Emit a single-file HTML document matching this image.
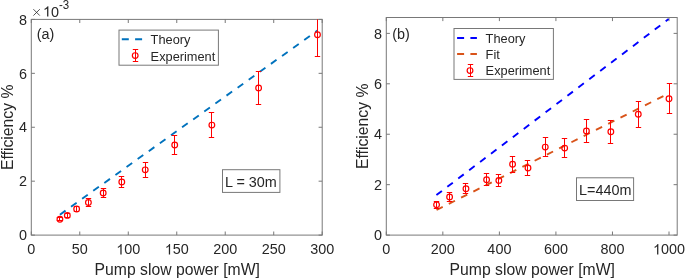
<!DOCTYPE html>
<html><head><meta charset="utf-8"><style>
html,body{margin:0;padding:0;background:#fff;width:685px;height:279px;overflow:hidden;}
svg{display:block;will-change:transform;}
</style></head><body>
<svg width="685" height="279" viewBox="0 0 685 279" font-family='"Liberation Sans", sans-serif'>
<rect width="685" height="279" fill="#fff"/>
<rect x="31.3" y="19.4" width="290.90" height="215.70" fill="none" stroke="#787878" stroke-width="1.0"/>
<line x1="31.30" y1="235.1" x2="31.30" y2="231.50" stroke="#787878" stroke-width="1.0"/>
<line x1="31.30" y1="19.4" x2="31.30" y2="23.00" stroke="#787878" stroke-width="1.0"/>
<text transform="translate(27.296,254.400) scale(1,1.035)" font-size="14.4" fill="#262626">0</text>
<line x1="79.78" y1="235.1" x2="79.78" y2="231.50" stroke="#787878" stroke-width="1.0"/>
<line x1="79.78" y1="19.4" x2="79.78" y2="23.00" stroke="#787878" stroke-width="1.0"/>
<text transform="translate(71.775,254.400) scale(1,1.035)" font-size="14.4" fill="#262626">5</text>
<text transform="translate(79.783,254.400) scale(1,1.035)" font-size="14.4" fill="#262626">0</text>
<line x1="128.27" y1="235.1" x2="128.27" y2="231.50" stroke="#787878" stroke-width="1.0"/>
<line x1="128.27" y1="19.4" x2="128.27" y2="23.00" stroke="#787878" stroke-width="1.0"/>
<path transform="translate(116.254,254.400) scale(0.007031,-0.007031)" d="M763,0 L583,0 L583,1147 Q518,1085 412,1023 Q307,961 223,930 L223,1104 Q374,1175 487,1276 Q600,1377 647,1472 L763,1472 Z" fill="#262626"/>
<text transform="translate(124.262,254.400) scale(1,1.035)" font-size="14.4" fill="#262626">0</text>
<text transform="translate(132.271,254.400) scale(1,1.035)" font-size="14.4" fill="#262626">0</text>
<line x1="176.75" y1="235.1" x2="176.75" y2="231.50" stroke="#787878" stroke-width="1.0"/>
<line x1="176.75" y1="19.4" x2="176.75" y2="23.00" stroke="#787878" stroke-width="1.0"/>
<path transform="translate(164.737,254.400) scale(0.007031,-0.007031)" d="M763,0 L583,0 L583,1147 Q518,1085 412,1023 Q307,961 223,930 L223,1104 Q374,1175 487,1276 Q600,1377 647,1472 L763,1472 Z" fill="#262626"/>
<text transform="translate(172.746,254.400) scale(1,1.035)" font-size="14.4" fill="#262626">5</text>
<text transform="translate(180.754,254.400) scale(1,1.035)" font-size="14.4" fill="#262626">0</text>
<line x1="225.23" y1="235.1" x2="225.23" y2="231.50" stroke="#787878" stroke-width="1.0"/>
<line x1="225.23" y1="19.4" x2="225.23" y2="23.00" stroke="#787878" stroke-width="1.0"/>
<text transform="translate(213.220,254.400) scale(1,1.035)" font-size="14.4" fill="#262626">2</text>
<text transform="translate(221.229,254.400) scale(1,1.035)" font-size="14.4" fill="#262626">0</text>
<text transform="translate(229.238,254.400) scale(1,1.035)" font-size="14.4" fill="#262626">0</text>
<line x1="273.72" y1="235.1" x2="273.72" y2="231.50" stroke="#787878" stroke-width="1.0"/>
<line x1="273.72" y1="19.4" x2="273.72" y2="23.00" stroke="#787878" stroke-width="1.0"/>
<text transform="translate(261.704,254.400) scale(1,1.035)" font-size="14.4" fill="#262626">2</text>
<text transform="translate(269.712,254.400) scale(1,1.035)" font-size="14.4" fill="#262626">5</text>
<text transform="translate(277.721,254.400) scale(1,1.035)" font-size="14.4" fill="#262626">0</text>
<line x1="322.20" y1="235.1" x2="322.20" y2="231.50" stroke="#787878" stroke-width="1.0"/>
<line x1="322.20" y1="19.4" x2="322.20" y2="23.00" stroke="#787878" stroke-width="1.0"/>
<text transform="translate(310.187,254.400) scale(1,1.035)" font-size="14.4" fill="#262626">3</text>
<text transform="translate(318.196,254.400) scale(1,1.035)" font-size="14.4" fill="#262626">0</text>
<text transform="translate(326.204,254.400) scale(1,1.035)" font-size="14.4" fill="#262626">0</text>
<line x1="31.3" y1="235.10" x2="34.90" y2="235.10" stroke="#787878" stroke-width="1.0"/>
<line x1="322.2" y1="235.10" x2="318.60" y2="235.10" stroke="#787878" stroke-width="1.0"/>
<text transform="translate(18.991,240.300) scale(1,1.035)" font-size="14.4" fill="#262626">0</text>
<line x1="31.3" y1="181.18" x2="34.90" y2="181.18" stroke="#787878" stroke-width="1.0"/>
<line x1="322.2" y1="181.18" x2="318.60" y2="181.18" stroke="#787878" stroke-width="1.0"/>
<text transform="translate(18.991,186.375) scale(1,1.035)" font-size="14.4" fill="#262626">2</text>
<line x1="31.3" y1="127.25" x2="34.90" y2="127.25" stroke="#787878" stroke-width="1.0"/>
<line x1="322.2" y1="127.25" x2="318.60" y2="127.25" stroke="#787878" stroke-width="1.0"/>
<text transform="translate(18.991,132.450) scale(1,1.035)" font-size="14.4" fill="#262626">4</text>
<line x1="31.3" y1="73.33" x2="34.90" y2="73.33" stroke="#787878" stroke-width="1.0"/>
<line x1="322.2" y1="73.33" x2="318.60" y2="73.33" stroke="#787878" stroke-width="1.0"/>
<text transform="translate(18.991,78.525) scale(1,1.035)" font-size="14.4" fill="#262626">6</text>
<line x1="31.3" y1="19.40" x2="34.90" y2="19.40" stroke="#787878" stroke-width="1.0"/>
<line x1="322.2" y1="19.40" x2="318.60" y2="19.40" stroke="#787878" stroke-width="1.0"/>
<text transform="translate(18.991,24.600) scale(1,1.035)" font-size="14.4" fill="#262626">8</text>
<text transform="translate(177.250,275.000) scale(1,1.035)" font-size="15.75" text-anchor="middle" fill="#262626">Pump slow power [mW]</text>
<text transform="translate(13.200,127.250) rotate(-90) scale(1,1.035)" font-size="15.75" text-anchor="middle" fill="#262626">Efficiency %</text>
<path d="M33.4,9.2 L39.8,15.6 M39.8,9.2 L33.4,15.6" stroke="#262626" stroke-width="0.8" fill="none"/>
<path transform="translate(43.000,16.500) scale(0.007031,-0.007031)" d="M763,0 L583,0 L583,1147 Q518,1085 412,1023 Q307,961 223,930 L223,1104 Q374,1175 487,1276 Q600,1377 647,1472 L763,1472 Z" fill="#262626"/>
<text transform="translate(51.009,16.500) scale(1,1.035)" font-size="14.4" fill="#262626">0</text>
<text transform="translate(59.017,9.4) scale(1,1.035)" font-size="11.5" fill="#262626">-3</text>
<path d="M59.92,214.65 L317.47,30.60" fill="none" stroke="#0072bd" stroke-width="1.9" stroke-dasharray="6.9 6.75"/>
<line x1="59.50" y1="217.50" x2="59.50" y2="220.50" stroke="#ff0000" stroke-width="1.0"/>
<line x1="56.80" y1="217.50" x2="62.20" y2="217.50" stroke="#ff0000" stroke-width="1.0"/>
<line x1="56.80" y1="220.50" x2="62.20" y2="220.50" stroke="#ff0000" stroke-width="1.0"/>
<circle cx="59.92" cy="219.19" r="2.85" fill="none" stroke="#ff0000" stroke-width="1.2"/>
<line x1="67.50" y1="213.50" x2="67.50" y2="217.50" stroke="#ff0000" stroke-width="1.0"/>
<line x1="64.80" y1="213.50" x2="70.20" y2="213.50" stroke="#ff0000" stroke-width="1.0"/>
<line x1="64.80" y1="217.50" x2="70.20" y2="217.50" stroke="#ff0000" stroke-width="1.0"/>
<circle cx="67.33" cy="215.42" r="2.85" fill="none" stroke="#ff0000" stroke-width="1.2"/>
<line x1="76.50" y1="206.50" x2="76.50" y2="211.50" stroke="#ff0000" stroke-width="1.0"/>
<line x1="73.80" y1="206.50" x2="79.20" y2="206.50" stroke="#ff0000" stroke-width="1.0"/>
<line x1="73.80" y1="211.50" x2="79.20" y2="211.50" stroke="#ff0000" stroke-width="1.0"/>
<circle cx="76.65" cy="208.95" r="2.85" fill="none" stroke="#ff0000" stroke-width="1.2"/>
<line x1="88.50" y1="198.50" x2="88.50" y2="206.50" stroke="#ff0000" stroke-width="1.0"/>
<line x1="85.80" y1="198.50" x2="91.20" y2="198.50" stroke="#ff0000" stroke-width="1.0"/>
<line x1="85.80" y1="206.50" x2="91.20" y2="206.50" stroke="#ff0000" stroke-width="1.0"/>
<circle cx="88.40" cy="202.48" r="2.85" fill="none" stroke="#ff0000" stroke-width="1.2"/>
<line x1="103.50" y1="188.50" x2="103.50" y2="197.50" stroke="#ff0000" stroke-width="1.0"/>
<line x1="100.80" y1="188.50" x2="106.20" y2="188.50" stroke="#ff0000" stroke-width="1.0"/>
<line x1="100.80" y1="197.50" x2="106.20" y2="197.50" stroke="#ff0000" stroke-width="1.0"/>
<circle cx="103.18" cy="193.04" r="2.85" fill="none" stroke="#ff0000" stroke-width="1.2"/>
<line x1="121.50" y1="176.50" x2="121.50" y2="187.50" stroke="#ff0000" stroke-width="1.0"/>
<line x1="118.80" y1="176.50" x2="124.20" y2="176.50" stroke="#ff0000" stroke-width="1.0"/>
<line x1="118.80" y1="187.50" x2="124.20" y2="187.50" stroke="#ff0000" stroke-width="1.0"/>
<circle cx="121.79" cy="181.98" r="2.85" fill="none" stroke="#ff0000" stroke-width="1.2"/>
<line x1="145.50" y1="162.50" x2="145.50" y2="177.50" stroke="#ff0000" stroke-width="1.0"/>
<line x1="142.80" y1="162.50" x2="148.20" y2="162.50" stroke="#ff0000" stroke-width="1.0"/>
<line x1="142.80" y1="177.50" x2="148.20" y2="177.50" stroke="#ff0000" stroke-width="1.0"/>
<circle cx="145.23" cy="169.85" r="2.85" fill="none" stroke="#ff0000" stroke-width="1.2"/>
<line x1="174.50" y1="135.50" x2="174.50" y2="154.50" stroke="#ff0000" stroke-width="1.0"/>
<line x1="171.80" y1="135.50" x2="177.20" y2="135.50" stroke="#ff0000" stroke-width="1.0"/>
<line x1="171.80" y1="154.50" x2="177.20" y2="154.50" stroke="#ff0000" stroke-width="1.0"/>
<circle cx="174.72" cy="145.05" r="2.85" fill="none" stroke="#ff0000" stroke-width="1.2"/>
<line x1="211.50" y1="112.50" x2="211.50" y2="137.50" stroke="#ff0000" stroke-width="1.0"/>
<line x1="208.80" y1="112.50" x2="214.20" y2="112.50" stroke="#ff0000" stroke-width="1.0"/>
<line x1="208.80" y1="137.50" x2="214.20" y2="137.50" stroke="#ff0000" stroke-width="1.0"/>
<circle cx="211.86" cy="125.09" r="2.85" fill="none" stroke="#ff0000" stroke-width="1.2"/>
<line x1="258.50" y1="71.50" x2="258.50" y2="104.50" stroke="#ff0000" stroke-width="1.0"/>
<line x1="255.80" y1="71.50" x2="261.20" y2="71.50" stroke="#ff0000" stroke-width="1.0"/>
<line x1="255.80" y1="104.50" x2="261.20" y2="104.50" stroke="#ff0000" stroke-width="1.0"/>
<circle cx="258.61" cy="87.88" r="2.85" fill="none" stroke="#ff0000" stroke-width="1.2"/>
<line x1="317.50" y1="19.40" x2="317.50" y2="56.50" stroke="#ff0000" stroke-width="1.0"/>
<line x1="314.80" y1="56.50" x2="320.20" y2="56.50" stroke="#ff0000" stroke-width="1.0"/>
<circle cx="317.47" cy="34.77" r="2.85" fill="none" stroke="#ff0000" stroke-width="1.2"/>
<rect x="119.0" y="30.1" width="99.4" height="35.1" fill="#fff" stroke="#787878" stroke-width="1"/>
<path d="M121.80,39.20 L142.10,39.20" fill="none" stroke="#0072bd" stroke-width="2.0" stroke-dasharray="7.0 6.3"/>
<line x1="135.50" y1="49.50" x2="135.50" y2="61.50" stroke="#ff0000" stroke-width="1.0"/>
<line x1="132.80" y1="49.50" x2="138.20" y2="49.50" stroke="#ff0000" stroke-width="1.0"/>
<line x1="132.80" y1="61.50" x2="138.20" y2="61.50" stroke="#ff0000" stroke-width="1.0"/>
<circle cx="135.20" cy="55.60" r="2.85" fill="none" stroke="#ff0000" stroke-width="1.2"/>
<text transform="translate(150.600,44.100) scale(1,1.035)" font-size="12.8" text-anchor="start" fill="#262626">Theory</text>
<text transform="translate(150.600,60.500) scale(1,1.035)" font-size="12.8" text-anchor="start" fill="#262626">Experiment</text>
<text transform="translate(36.800,39.000) scale(1,1.035)" font-size="14.4" text-anchor="start" fill="#262626">(a)</text>
<rect x="222.5" y="169.7" width="57.4" height="22.7" fill="#fff" stroke="#787878" stroke-width="1"/>
<text transform="translate(225.000,187.000) scale(1,1.035)" font-size="14.4" text-anchor="start" fill="#262626">L = 30m</text>
<rect x="386.3" y="17.5" width="290.90" height="217.60" fill="none" stroke="#787878" stroke-width="1.0"/>
<line x1="386.30" y1="235.1" x2="386.30" y2="231.50" stroke="#787878" stroke-width="1.0"/>
<line x1="386.30" y1="17.5" x2="386.30" y2="21.10" stroke="#787878" stroke-width="1.0"/>
<text transform="translate(382.296,254.400) scale(1,1.035)" font-size="14.4" fill="#262626">0</text>
<line x1="442.84" y1="235.1" x2="442.84" y2="231.50" stroke="#787878" stroke-width="1.0"/>
<line x1="442.84" y1="17.5" x2="442.84" y2="21.10" stroke="#787878" stroke-width="1.0"/>
<text transform="translate(430.827,254.400) scale(1,1.035)" font-size="14.4" fill="#262626">2</text>
<text transform="translate(438.836,254.400) scale(1,1.035)" font-size="14.4" fill="#262626">0</text>
<text transform="translate(446.845,254.400) scale(1,1.035)" font-size="14.4" fill="#262626">0</text>
<line x1="499.38" y1="235.1" x2="499.38" y2="231.50" stroke="#787878" stroke-width="1.0"/>
<line x1="499.38" y1="17.5" x2="499.38" y2="21.10" stroke="#787878" stroke-width="1.0"/>
<text transform="translate(487.368,254.400) scale(1,1.035)" font-size="14.4" fill="#262626">4</text>
<text transform="translate(495.376,254.400) scale(1,1.035)" font-size="14.4" fill="#262626">0</text>
<text transform="translate(503.385,254.400) scale(1,1.035)" font-size="14.4" fill="#262626">0</text>
<line x1="555.92" y1="235.1" x2="555.92" y2="231.50" stroke="#787878" stroke-width="1.0"/>
<line x1="555.92" y1="17.5" x2="555.92" y2="21.10" stroke="#787878" stroke-width="1.0"/>
<text transform="translate(543.908,254.400) scale(1,1.035)" font-size="14.4" fill="#262626">6</text>
<text transform="translate(551.917,254.400) scale(1,1.035)" font-size="14.4" fill="#262626">0</text>
<text transform="translate(559.925,254.400) scale(1,1.035)" font-size="14.4" fill="#262626">0</text>
<line x1="612.46" y1="235.1" x2="612.46" y2="231.50" stroke="#787878" stroke-width="1.0"/>
<line x1="612.46" y1="17.5" x2="612.46" y2="21.10" stroke="#787878" stroke-width="1.0"/>
<text transform="translate(600.448,254.400) scale(1,1.035)" font-size="14.4" fill="#262626">8</text>
<text transform="translate(608.457,254.400) scale(1,1.035)" font-size="14.4" fill="#262626">0</text>
<text transform="translate(616.466,254.400) scale(1,1.035)" font-size="14.4" fill="#262626">0</text>
<line x1="669.00" y1="235.1" x2="669.00" y2="231.50" stroke="#787878" stroke-width="1.0"/>
<line x1="669.00" y1="17.5" x2="669.00" y2="21.10" stroke="#787878" stroke-width="1.0"/>
<path transform="translate(652.984,254.400) scale(0.007031,-0.007031)" d="M763,0 L583,0 L583,1147 Q518,1085 412,1023 Q307,961 223,930 L223,1104 Q374,1175 487,1276 Q600,1377 647,1472 L763,1472 Z" fill="#262626"/>
<text transform="translate(660.993,254.400) scale(1,1.035)" font-size="14.4" fill="#262626">0</text>
<text transform="translate(669.002,254.400) scale(1,1.035)" font-size="14.4" fill="#262626">0</text>
<text transform="translate(677.010,254.400) scale(1,1.035)" font-size="14.4" fill="#262626">0</text>
<line x1="386.3" y1="235.10" x2="389.90" y2="235.10" stroke="#787878" stroke-width="1.0"/>
<line x1="677.2" y1="235.10" x2="673.60" y2="235.10" stroke="#787878" stroke-width="1.0"/>
<text transform="translate(373.991,240.300) scale(1,1.035)" font-size="14.4" fill="#262626">0</text>
<line x1="386.3" y1="184.67" x2="389.90" y2="184.67" stroke="#787878" stroke-width="1.0"/>
<line x1="677.2" y1="184.67" x2="673.60" y2="184.67" stroke="#787878" stroke-width="1.0"/>
<text transform="translate(373.991,189.871) scale(1,1.035)" font-size="14.4" fill="#262626">2</text>
<line x1="386.3" y1="134.24" x2="389.90" y2="134.24" stroke="#787878" stroke-width="1.0"/>
<line x1="677.2" y1="134.24" x2="673.60" y2="134.24" stroke="#787878" stroke-width="1.0"/>
<text transform="translate(373.991,139.443) scale(1,1.035)" font-size="14.4" fill="#262626">4</text>
<line x1="386.3" y1="83.81" x2="389.90" y2="83.81" stroke="#787878" stroke-width="1.0"/>
<line x1="677.2" y1="83.81" x2="673.60" y2="83.81" stroke="#787878" stroke-width="1.0"/>
<text transform="translate(373.991,89.014) scale(1,1.035)" font-size="14.4" fill="#262626">6</text>
<line x1="386.3" y1="33.39" x2="389.90" y2="33.39" stroke="#787878" stroke-width="1.0"/>
<line x1="677.2" y1="33.39" x2="673.60" y2="33.39" stroke="#787878" stroke-width="1.0"/>
<text transform="translate(373.991,38.585) scale(1,1.035)" font-size="14.4" fill="#262626">8</text>
<text transform="translate(532.250,275.000) scale(1,1.035)" font-size="15.75" text-anchor="middle" fill="#262626">Pump slow power [mW]</text>
<text transform="translate(368.300,126.300) rotate(-90) scale(1,1.035)" font-size="15.75" text-anchor="middle" fill="#262626">Efficiency %</text>
<path d="M436.40,195.10 L668.60,19.10" fill="none" stroke="#0000ff" stroke-width="1.9" stroke-dasharray="6.9 6.8"/>
<path d="M436.56,210.01 L669.00,93.27" fill="none" stroke="#d95319" stroke-width="1.9" stroke-dasharray="6.9 6.82"/>
<line x1="436.50" y1="201.50" x2="436.50" y2="208.50" stroke="#ff0000" stroke-width="1.0"/>
<line x1="433.80" y1="201.50" x2="439.20" y2="201.50" stroke="#ff0000" stroke-width="1.0"/>
<line x1="433.80" y1="208.50" x2="439.20" y2="208.50" stroke="#ff0000" stroke-width="1.0"/>
<circle cx="436.56" cy="204.84" r="2.85" fill="none" stroke="#ff0000" stroke-width="1.2"/>
<line x1="449.50" y1="192.50" x2="449.50" y2="201.50" stroke="#ff0000" stroke-width="1.0"/>
<line x1="446.80" y1="192.50" x2="452.20" y2="192.50" stroke="#ff0000" stroke-width="1.0"/>
<line x1="446.80" y1="201.50" x2="452.20" y2="201.50" stroke="#ff0000" stroke-width="1.0"/>
<circle cx="449.60" cy="197.03" r="2.85" fill="none" stroke="#ff0000" stroke-width="1.2"/>
<line x1="465.50" y1="183.50" x2="465.50" y2="193.50" stroke="#ff0000" stroke-width="1.0"/>
<line x1="462.80" y1="183.50" x2="468.20" y2="183.50" stroke="#ff0000" stroke-width="1.0"/>
<line x1="462.80" y1="193.50" x2="468.20" y2="193.50" stroke="#ff0000" stroke-width="1.0"/>
<circle cx="465.97" cy="188.71" r="2.85" fill="none" stroke="#ff0000" stroke-width="1.2"/>
<line x1="486.50" y1="173.50" x2="486.50" y2="185.50" stroke="#ff0000" stroke-width="1.0"/>
<line x1="483.80" y1="173.50" x2="489.20" y2="173.50" stroke="#ff0000" stroke-width="1.0"/>
<line x1="483.80" y1="185.50" x2="489.20" y2="185.50" stroke="#ff0000" stroke-width="1.0"/>
<circle cx="486.60" cy="179.63" r="2.85" fill="none" stroke="#ff0000" stroke-width="1.2"/>
<line x1="498.50" y1="174.50" x2="498.50" y2="186.50" stroke="#ff0000" stroke-width="1.0"/>
<line x1="495.80" y1="174.50" x2="501.20" y2="174.50" stroke="#ff0000" stroke-width="1.0"/>
<line x1="495.80" y1="186.50" x2="501.20" y2="186.50" stroke="#ff0000" stroke-width="1.0"/>
<circle cx="498.84" cy="180.38" r="2.85" fill="none" stroke="#ff0000" stroke-width="1.2"/>
<line x1="512.50" y1="156.50" x2="512.50" y2="172.50" stroke="#ff0000" stroke-width="1.0"/>
<line x1="509.80" y1="156.50" x2="515.20" y2="156.50" stroke="#ff0000" stroke-width="1.0"/>
<line x1="509.80" y1="172.50" x2="515.20" y2="172.50" stroke="#ff0000" stroke-width="1.0"/>
<circle cx="512.58" cy="164.25" r="2.85" fill="none" stroke="#ff0000" stroke-width="1.2"/>
<line x1="527.50" y1="160.50" x2="527.50" y2="175.50" stroke="#ff0000" stroke-width="1.0"/>
<line x1="524.80" y1="160.50" x2="530.20" y2="160.50" stroke="#ff0000" stroke-width="1.0"/>
<line x1="524.80" y1="175.50" x2="530.20" y2="175.50" stroke="#ff0000" stroke-width="1.0"/>
<circle cx="527.99" cy="168.03" r="2.85" fill="none" stroke="#ff0000" stroke-width="1.2"/>
<line x1="545.50" y1="137.50" x2="545.50" y2="156.50" stroke="#ff0000" stroke-width="1.0"/>
<line x1="542.80" y1="137.50" x2="548.20" y2="137.50" stroke="#ff0000" stroke-width="1.0"/>
<line x1="542.80" y1="156.50" x2="548.20" y2="156.50" stroke="#ff0000" stroke-width="1.0"/>
<circle cx="545.26" cy="147.10" r="2.85" fill="none" stroke="#ff0000" stroke-width="1.2"/>
<line x1="564.50" y1="138.50" x2="564.50" y2="157.50" stroke="#ff0000" stroke-width="1.0"/>
<line x1="561.80" y1="138.50" x2="567.20" y2="138.50" stroke="#ff0000" stroke-width="1.0"/>
<line x1="561.80" y1="157.50" x2="567.20" y2="157.50" stroke="#ff0000" stroke-width="1.0"/>
<circle cx="564.68" cy="148.11" r="2.85" fill="none" stroke="#ff0000" stroke-width="1.2"/>
<line x1="586.50" y1="119.50" x2="586.50" y2="142.50" stroke="#ff0000" stroke-width="1.0"/>
<line x1="583.80" y1="119.50" x2="589.20" y2="119.50" stroke="#ff0000" stroke-width="1.0"/>
<line x1="583.80" y1="142.50" x2="589.20" y2="142.50" stroke="#ff0000" stroke-width="1.0"/>
<circle cx="586.42" cy="130.96" r="2.85" fill="none" stroke="#ff0000" stroke-width="1.2"/>
<line x1="610.50" y1="120.50" x2="610.50" y2="143.50" stroke="#ff0000" stroke-width="1.0"/>
<line x1="607.80" y1="120.50" x2="613.20" y2="120.50" stroke="#ff0000" stroke-width="1.0"/>
<line x1="607.80" y1="143.50" x2="613.20" y2="143.50" stroke="#ff0000" stroke-width="1.0"/>
<circle cx="610.85" cy="131.72" r="2.85" fill="none" stroke="#ff0000" stroke-width="1.2"/>
<line x1="638.50" y1="101.50" x2="638.50" y2="127.50" stroke="#ff0000" stroke-width="1.0"/>
<line x1="635.80" y1="101.50" x2="641.20" y2="101.50" stroke="#ff0000" stroke-width="1.0"/>
<line x1="635.80" y1="127.50" x2="641.20" y2="127.50" stroke="#ff0000" stroke-width="1.0"/>
<circle cx="638.27" cy="114.32" r="2.85" fill="none" stroke="#ff0000" stroke-width="1.2"/>
<line x1="669.50" y1="83.50" x2="669.50" y2="113.50" stroke="#ff0000" stroke-width="1.0"/>
<line x1="666.80" y1="83.50" x2="672.20" y2="83.50" stroke="#ff0000" stroke-width="1.0"/>
<line x1="666.80" y1="113.50" x2="672.20" y2="113.50" stroke="#ff0000" stroke-width="1.0"/>
<circle cx="669.00" cy="98.69" r="2.85" fill="none" stroke="#ff0000" stroke-width="1.2"/>
<rect x="454.0" y="28.5" width="99.4" height="50.9" fill="#fff" stroke="#787878" stroke-width="1"/>
<path d="M457.10,37.90 L476.90,37.90" fill="none" stroke="#0000ff" stroke-width="2.0" stroke-dasharray="7.0 6.3"/>
<path d="M457.10,53.90 L476.90,53.90" fill="none" stroke="#d95319" stroke-width="2.0" stroke-dasharray="7.0 6.3"/>
<line x1="470.50" y1="64.50" x2="470.50" y2="76.50" stroke="#ff0000" stroke-width="1.0"/>
<line x1="467.80" y1="64.50" x2="473.20" y2="64.50" stroke="#ff0000" stroke-width="1.0"/>
<line x1="467.80" y1="76.50" x2="473.20" y2="76.50" stroke="#ff0000" stroke-width="1.0"/>
<circle cx="470.00" cy="70.60" r="2.85" fill="none" stroke="#ff0000" stroke-width="1.2"/>
<text transform="translate(485.600,42.800) scale(1,1.035)" font-size="12.8" text-anchor="start" fill="#262626">Theory</text>
<text transform="translate(485.600,59.000) scale(1,1.035)" font-size="12.8" text-anchor="start" fill="#262626">Fit</text>
<text transform="translate(485.600,75.100) scale(1,1.035)" font-size="12.8" text-anchor="start" fill="#262626">Experiment</text>
<text transform="translate(392.200,38.700) scale(1,1.035)" font-size="14.4" text-anchor="start" fill="#262626">(b)</text>
<rect x="576.5" y="177.8" width="57.1" height="22.7" fill="#fff" stroke="#787878" stroke-width="1"/>
<text transform="translate(579.000,195.400) scale(1,1.035)" font-size="14.4" text-anchor="start" fill="#262626">L=440m</text>
</svg>
</body></html>
